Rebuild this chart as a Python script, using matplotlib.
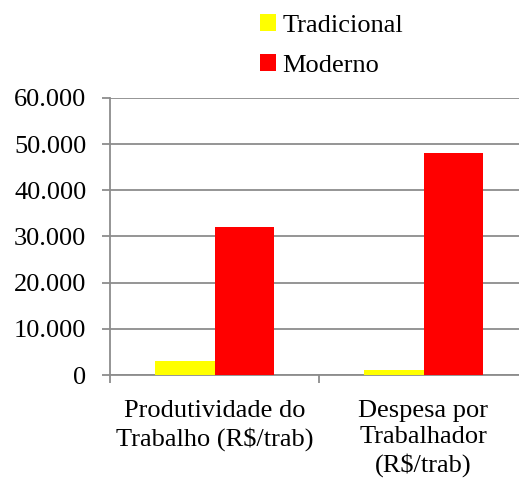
import matplotlib
matplotlib.use("Agg")
from matplotlib import pyplot as plt
import numpy as np

categories = ["Produtividade do\nTrabalho (R$/trab)", "Despesa por\nTrabalhador\n(R$/trab)"]
tradicional = [3000, 1100]
moderno = [32000, 48000]
series_names = ["Tradicional", "Moderno"]
colors = ["#FFFF00", "#FF0000"]

plt.rcParams["font.family"] = ["Liberation Serif", "DejaVu Serif"]
plt.rcParams["font.size"] = 19

fig = plt.figure(figsize=(5.19, 4.78), dpi=100)
ax = fig.add_axes([110 / 519, 103 / 478, 418 / 519, 277 / 478])

x = np.arange(len(categories))
w = 0.287
ax.bar(x - w / 2, tradicional, w, color=colors[0], label=series_names[0], zorder=3)
ax.bar(x + w / 2, moderno, w, color=colors[1], label=series_names[1], zorder=3)

ax.set_xlim(-0.5, 1.5)
ax.set_ylim(0, 60000)
ax.set_yticks(np.arange(0, 60001, 10000))
ax.set_yticklabels(["0", "10.000", "20.000", "30.000", "40.000", "50.000", "60.000"])
ax.yaxis.grid(True, color="#8c8c8c", linewidth=1.3, zorder=0)

ax.set_xticks([-0.5, 0.5, 1.5])
ax.set_xticklabels([])
ax.set_xticks(x, minor=True)
ax.set_xticklabels(categories, minor=True, linespacing=1.25)
ax.tick_params(axis="x", which="minor", length=0, pad=18)
ax.tick_params(axis="x", which="major", length=6, width=1.3, color="#8c8c8c")
ax.tick_params(axis="y", length=6, width=1.3, color="#8c8c8c", pad=11)

for s in ["top", "right"]:
    ax.spines[s].set_visible(False)
for s in ["left", "bottom"]:
    ax.spines[s].set_color("#8c8c8c")
    ax.spines[s].set_linewidth(1.3)

fig.legend(loc="upper left", bbox_to_anchor=(244 / 519, 1.003), frameon=False,
           handlelength=0.6, handleheight=0.6, handletextpad=0.25,
           labelspacing=0.65, borderaxespad=0.2)

fig.savefig("out.png", dpi=100)
